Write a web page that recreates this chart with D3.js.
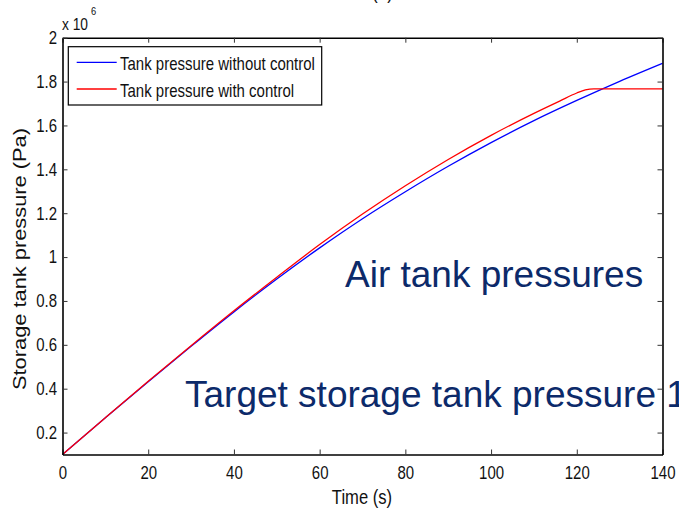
<!DOCTYPE html>
<html>
<head>
<meta charset="utf-8">
<script src="https://cdn.jsdelivr.net/npm/d3@7"></script>
<style>
  html, body { margin: 0; padding: 0; background: #fff; }
  svg { display: block; }
  text { font-family: "Liberation Sans", Arial, Helvetica, sans-serif; }
</style>
</head>
<body>
<svg id="chart" width="679" height="510"></svg>
<script>
// Simulation time (s) and storage tank pressure (x 10^6 Pa)
const timeWithout = [0, 10, 20, 30, 40, 50, 60, 70, 80, 90, 100, 110, 120, 130, 140];
const pressureWithout = [0.100, 0.267, 0.432, 0.593, 0.750, 0.900, 1.042, 1.175, 1.298, 1.414, 1.522, 1.622, 1.714, 1.801, 1.883];

const timeWith = [0, 10, 20, 30, 40, 50, 60, 70, 80, 90, 100, 110, 116, 120, 122, 124, 130, 140];
const pressureWith = [0.100, 0.268, 0.434, 0.596, 0.755, 0.908, 1.057, 1.196, 1.325, 1.445, 1.555, 1.655, 1.711, 1.748, 1.762, 1.767, 1.767, 1.767];

const xTicks = [0, 20, 40, 60, 80, 100, 120, 140];
const yTicks = [0.2, 0.4, 0.6, 0.8, 1.0, 1.2, 1.4, 1.6, 1.8, 2.0];
const yTickLabels = ["0.2", "0.4", "0.6", "0.8", "1", "1.2", "1.4", "1.6", "1.8", "2"];

const seriesNames = ["Tank pressure without control", "Tank pressure with control"];
const seriesColors = ["#0000ff", "#ff0000"];

const svg = d3.select("#chart");
const plotLeft = 62.5, plotRight = 662.5, plotTop = 37.7, plotBottom = 454.5;

const x = d3.scaleLinear().domain([0, 140]).range([plotLeft, plotRight]);
const y = d3.scaleLinear().domain([0.1, 2.0]).range([plotBottom, plotTop]);

// Squeeze glyphs horizontally (narrow figure font)
function condense(sel, f) {
  sel.each(function () {
    const w = this.getComputedTextLength();
    this.setAttribute("textLength", w * f);
    this.setAttribute("lengthAdjust", "spacingAndGlyphs");
  });
}
const NARROW = 0.81;

// Data lines
const line = d3.line().x(d => x(d[0])).y(d => y(d[1])).curve(d3.curveMonotoneX);
const plot = svg.append("g");
plot.append("path")
  .datum(timeWithout.map((t, i) => [t, pressureWithout[i]]))
  .attr("d", line).attr("fill", "none")
  .attr("stroke", seriesColors[0]).attr("stroke-width", 1.3);
plot.append("path")
  .datum(timeWith.map((t, i) => [t, pressureWith[i]]))
  .attr("d", line).attr("fill", "none")
  .attr("stroke", seriesColors[1]).attr("stroke-width", 1.3);

// Slide annotations
const noteColor = "#0c2a6a";
svg.append("text").attr("x", 345).attr("y", 286.5)
  .attr("font-size", 37).attr("fill", noteColor)
  .text("Air tank pressures");
svg.append("text").attr("x", 185).attr("y", 406.5)
  .attr("font-size", 37).attr("fill", noteColor)
  .text("Target storage tank pressure 1");

// Axes with inward ticks on all four sides
function styleAxis(g) {
  g.select(".domain").attr("stroke", "#000").attr("stroke-width", 1.6);
  g.selectAll(".tick line").attr("stroke", "#333").attr("stroke-width", 1);
  g.selectAll(".tick text").attr("font-size", 18.5).attr("fill", "#111")
    .attr("font-family", "'Liberation Sans', Arial, sans-serif");
}

const gx = svg.append("g").attr("transform", `translate(0,${plotBottom})`)
  .call(d3.axisBottom(x).tickValues(xTicks).tickSizeInner(-5).tickSizeOuter(0)
    .tickPadding(11).tickFormat(d3.format("d")));
styleAxis(gx);
condense(gx.selectAll(".tick text"), NARROW);

const gxt = svg.append("g").attr("transform", `translate(0,${plotTop})`)
  .call(d3.axisTop(x).tickValues(xTicks).tickSizeInner(-5).tickSizeOuter(0).tickFormat(""));
styleAxis(gxt);

const gy = svg.append("g").attr("transform", `translate(${plotLeft},0)`)
  .call(d3.axisLeft(y).tickValues(yTicks).tickSizeInner(-5).tickSizeOuter(0)
    .tickPadding(5.5).tickFormat((d, i) => yTickLabels[i]));
styleAxis(gy);
condense(gy.selectAll(".tick text"), NARROW);

const gyr = svg.append("g").attr("transform", `translate(${plotRight},0)`)
  .call(d3.axisRight(y).tickValues(yTicks).tickSizeInner(-5).tickSizeOuter(0).tickFormat(""));
styleAxis(gyr);

// Exponent marker
const expo = svg.append("text").attr("x", 62).attr("y", 30).attr("font-size", 17).attr("fill", "#111");
expo.text("x 10");
condense(expo, NARROW);
const sup = svg.append("text").attr("x", 91).attr("y", 15).attr("font-size", 11.5).attr("fill", "#111").text("6");
condense(sup, NARROW);

// Axis titles
const xl = svg.append("text").attr("x", 362).attr("y", 503.5).attr("text-anchor", "middle")
  .attr("font-size", 20.5).attr("fill", "#111").text("Time (s)");
condense(xl, NARROW);
const yl = svg.append("text").attr("transform", "translate(26,259) rotate(-90)")
  .attr("text-anchor", "middle").attr("font-size", 18.5).attr("fill", "#111")
  .text("Storage tank pressure (Pa)");
yl.attr("textLength", 262).attr("lengthAdjust", "spacingAndGlyphs");

// Panel title (sits above the top edge)
const ttl = svg.append("text").attr("x", 382.5).attr("y", -1.5).attr("text-anchor", "middle")
  .attr("font-size", 21).attr("fill", "#111").text("(a)");
condense(ttl, NARROW);

// Legend
const leg = svg.append("g");
leg.append("rect").attr("x", 68.3).attr("y", 46.7).attr("width", 253.4).attr("height", 58.3)
  .attr("fill", "#fff").attr("stroke", "#000").attr("stroke-width", 1.2);
const rows = [62.3, 89];
seriesNames.forEach((name, i) => {
  leg.append("line").attr("x1", 76.7).attr("x2", 116.7).attr("y1", rows[i]).attr("y2", rows[i])
    .attr("stroke", seriesColors[i]).attr("stroke-width", 1.3);
  const t = leg.append("text").attr("x", 120).attr("y", rows[i] + 7.7)
    .attr("font-size", 18.5).attr("fill", "#111").text(name);
  condense(t, NARROW);
});
</script>
</body>
</html>
